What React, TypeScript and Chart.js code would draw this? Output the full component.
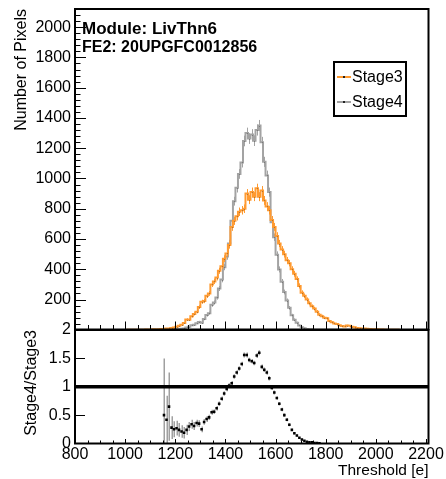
import React, { useEffect, useRef } from "react";
import { Chart, registerables } from "chart.js";

Chart.register(...registerables);

const FONT = "'Liberation Sans', Arial, Helvetica, sans-serif";
const ORANGE = "#ff9a30";
const GREY = "#a3a3a3";

const TITLE_MODULE = "Module: LivThn6";
const TITLE_FE = "FE2: 20UPGFC0012856";
const X_TITLE = "Threshold [e]";
const Y_TITLE_TOP = "Number of Pixels";
const Y_TITLE_BOTTOM = "Stage4/Stage3";
const SERIES_LABELS = ["Stage3", "Stage4"];

const X_MIN = 800;
const X_MAX = 2210;
const X_TICKS = [800, 1000, 1200, 1400, 1600, 1800, 2000, 2200];
const TOP_Y_MIN = 2;
const TOP_Y_MAX = 2120;
const TOP_Y_TICKS = [200, 400, 600, 800, 1000, 1200, 1400, 1600, 1800, 2000];
const BOT_Y_TICKS = [0, 0.5, 1, 1.5, 2];
const RATIO_REF = 1;

const BIN_CENTERS = [
  1005, 1015, 1025, 1035, 1045, 1055, 1065, 1075, 1085, 1095,
  1105, 1115, 1125, 1135, 1145, 1155, 1165, 1175, 1185, 1195,
  1205, 1215, 1225, 1235, 1245, 1255, 1265, 1275, 1285, 1295,
  1305, 1315, 1325, 1335, 1345, 1355, 1365, 1375, 1385, 1395,
  1405, 1415, 1425, 1435, 1445, 1455, 1465, 1475, 1485, 1495,
  1505, 1515, 1525, 1535, 1545, 1555, 1565, 1575, 1585, 1595,
  1605, 1615, 1625, 1635, 1645, 1655, 1665, 1675, 1685, 1695,
  1705, 1715, 1725, 1735, 1745, 1755, 1765, 1775, 1785, 1795,
  1805, 1815, 1825, 1835, 1845, 1855, 1865, 1875, 1885, 1895,
  1905, 1915, 1925, 1935, 1945, 1955, 1965, 1975, 1985, 1995,
  2005, 2015, 2025, 2035, 2045, 2055, 2065, 2075, 2085, 2095,
];

const STAGE3 = [
  0, 1, 0, 1, 0, 1, 1, 0, 2, 1,
  2, 3, 2, 4, 5, 6, 8, 9, 12, 15,
  20, 26, 33, 45, 68, 66, 90, 105, 120, 150,
  185, 190, 225, 240, 300, 320, 345, 390, 420, 470,
  505, 560, 680, 720, 750, 780, 790, 800, 900, 860,
  910, 880, 935, 880, 920, 855, 815, 790, 725, 680,
  620, 570, 530, 500, 460, 440, 400, 370, 335, 290,
  245, 225, 200, 175, 155, 140, 120, 100, 90, 80,
  76, 58, 50, 42, 38, 30, 25, 22, 28, 26,
  20, 17, 12, 10, 9, 8, 7, 5, 4, 4,
  3, 2, 2, 1, 1, 0, 0, 0, 0, 0,
];

const STAGE4 = [
  0, 0, 0, 0, 0, 0, 0, 0, 0, 0,
  0, 0, 0, 0, 0, 3, 3, 6, 4, 4,
  5, 6, 7, 9, 16, 20, 30, 33, 43, 52,
  46, 72, 97, 110, 165, 180, 214, 273, 332, 414,
  485, 571, 720, 850, 938, 1030, 1106, 1248, 1300, 1264,
  1290, 1250, 1320, 1350, 1240, 1110, 1020, 910, 710, 612,
  496, 399, 318, 250, 193, 145, 96, 67, 47, 29,
  17, 11, 6, 4, 3, 1, 1, 0, 0, 0,
  0, 0, 0, 0, 0, 0, 0, 0, 0, 0,
  0, 0, 0, 0, 0, 0, 0, 0, 0, 0,
  0, 0, 0, 0, 0, 0, 0, 0, 0, 0,
];

const RATIO_CENTERS = [
  1155, 1165, 1175, 1185, 1195, 1205, 1215, 1225, 1235, 1245,
  1255, 1265, 1275, 1285, 1295, 1305, 1315, 1325, 1335, 1345,
  1355, 1365, 1375, 1385, 1395, 1405, 1415, 1425, 1435, 1445,
  1455, 1465, 1475, 1485, 1495, 1505, 1515, 1525, 1535, 1545,
  1555, 1565, 1575, 1585, 1595, 1605, 1615, 1625, 1635, 1645,
  1655, 1665, 1675, 1685, 1695, 1705, 1715, 1725, 1735, 1745,
  1755, 1765, 1775,
];

const RATIO = [
  0.5, 0.42, 0.65, 0.28, 0.25, 0.27, 0.24, 0.21, 0.19, 0.24,
  0.3, 0.34, 0.31, 0.36, 0.35, 0.25, 0.38, 0.43, 0.46, 0.55,
  0.56, 0.62, 0.7, 0.79, 0.88, 0.96, 1.02, 1.06, 1.18, 1.25,
  1.32, 1.4, 1.56, 1.56, 1.47, 1.45, 1.42, 1.55, 1.6, 1.35,
  1.3, 1.25, 1.15, 0.98, 0.9, 0.8, 0.7, 0.6, 0.5, 0.42,
  0.33, 0.24, 0.18, 0.14, 0.1, 0.07, 0.05, 0.03, 0.02, 0.02,
  0.01, 0.01, 0.005,
];

const RATIO_ERR = [
  1.0, 0.42, 0.6, 0.2, 0.14, 0.13, 0.12, 0.11, 0.1, 0.09,
  0.08, 0.08, 0.07, 0.06, 0.06, 0.05, 0.05, 0.05, 0.045, 0.045,
  0.04, 0.04, 0.04, 0.04, 0.04, 0.04, 0.04, 0.04, 0.04, 0.04,
  0.04, 0.04, 0.045, 0.045, 0.04, 0.04, 0.04, 0.045, 0.045, 0.04,
  0.04, 0.04, 0.04, 0.035, 0.035, 0.03, 0.03, 0.03, 0.03, 0.03,
  0.025, 0.02, 0.02, 0.02, 0.015, 0.015, 0.01, 0.01, 0.01, 0.01,
  0.01, 0.01, 0.005,
];

function drawTicks(
  ctx: CanvasRenderingContext2D,
  chart: any,
  opts: {
    yMajor: number[];
    yMinorStep: number;
    yMajorLen: number;
    yMinorLen: number;
    xMajorLen: number;
    xMinorLen: number;
  }
) {
  const ca = chart.chartArea;
  const xs = chart.scales.x;
  const ys = chart.scales.y;
  ctx.strokeStyle = "#000";
  ctx.lineWidth = 1;
  ctx.beginPath();
  const yMin = ys.min;
  const yMax = ys.max;
  if (opts.yMinorStep > 0) {
    const first = Math.ceil(yMin / opts.yMinorStep) * opts.yMinorStep;
    for (let v = first; v <= yMax + 1e-9; v += opts.yMinorStep) {
      const p = Math.round(ys.getPixelForValue(v)) + 0.5;
      ctx.moveTo(ca.left, p);
      ctx.lineTo(ca.left + opts.yMinorLen, p);
    }
  }
  for (const v of opts.yMajor) {
    if (v <= yMin || v >= yMax) continue;
    const p = Math.round(ys.getPixelForValue(v)) + 0.5;
    ctx.moveTo(ca.left, p);
    ctx.lineTo(ca.left + opts.yMajorLen, p);
  }
  for (let v = X_MIN; v <= X_MAX; v += 50) {
    if (v <= X_MIN || v >= X_MAX) continue;
    const p = Math.round(xs.getPixelForValue(v)) + 0.5;
    const len = X_TICKS.includes(v) ? opts.xMajorLen : opts.xMinorLen;
    ctx.moveTo(p, ca.bottom);
    ctx.lineTo(p, ca.bottom - len);
  }
  ctx.stroke();
  ctx.lineWidth = 2;
  ctx.strokeRect(ca.left, ca.top, ca.right - ca.left, ca.bottom - ca.top);
}

const topPlugin = {
  id: "topDecor",
  afterDatasetDraw(chart: any, args: any) {
    const ctx = chart.ctx as CanvasRenderingContext2D;
    const ca = chart.chartArea;
    const xs = chart.scales.x;
    const ys = chart.scales.y;
    const ds = chart.data.datasets[args.index];
    ctx.save();
    ctx.beginPath();
    ctx.rect(ca.left, ca.top, ca.right - ca.left, ca.bottom - ca.top);
    ctx.clip();
    ctx.strokeStyle = ds.borderColor;
    ctx.lineWidth = 1;
    ctx.beginPath();
    for (const pt of ds.data) {
      if (pt.y <= 0) continue;
      const e = Math.sqrt(pt.y);
      const x = Math.round(xs.getPixelForValue(pt.x)) + 0.5;
      ctx.moveTo(x, ys.getPixelForValue(pt.y - e));
      ctx.lineTo(x, ys.getPixelForValue(pt.y + e));
    }
    ctx.stroke();
    ctx.fillStyle = "rgba(60,60,60,0.4)";
    for (const pt of ds.data) {
      if (pt.y <= 0) continue;
      const x = Math.round(xs.getPixelForValue(pt.x));
      const y = Math.round(ys.getPixelForValue(pt.y));
      ctx.fillRect(x, y, 1, 1);
    }
    ctx.restore();
  },
  afterDraw(chart: any) {
    const ctx = chart.ctx as CanvasRenderingContext2D;
    ctx.save();
    drawTicks(ctx, chart, {
      yMajor: TOP_Y_TICKS,
      yMinorStep: 40,
      yMajorLen: 11,
      yMinorLen: 5.5,
      xMajorLen: 8,
      xMinorLen: 4.5,
    });
    ctx.fillStyle = "#000";
    ctx.textAlign = "left";
    ctx.textBaseline = "alphabetic";
    ctx.font = `bold 17px ${FONT}`;
    ctx.fillText(TITLE_MODULE, 82, 33.5);
    ctx.font = `bold 16px ${FONT}`;
    ctx.fillText(TITLE_FE, 82, 51.5);
    const lx = 334;
    const ly = 62;
    const lw = 72;
    const lh = 54;
    ctx.fillStyle = "#fff";
    ctx.fillRect(lx, ly, lw, lh);
    ctx.lineWidth = 2;
    ctx.strokeStyle = "#000";
    ctx.strokeRect(lx, ly, lw, lh);
    chart.data.datasets.forEach((ds: any, i: number) => {
      const cy = ly + 15 + i * 25;
      ctx.strokeStyle = ds.borderColor;
      ctx.lineWidth = 2;
      ctx.beginPath();
      ctx.moveTo(lx + 3, cy);
      ctx.lineTo(lx + 17, cy);
      ctx.stroke();
      ctx.fillStyle = "#222";
      ctx.fillRect(lx + 9, cy - 1, 2, 2);
      ctx.fillStyle = "#000";
      ctx.font = `16px ${FONT}`;
      ctx.textBaseline = "middle";
      ctx.fillText(ds.label, lx + 18, cy + 1);
    });
    ctx.restore();
  },
};

const bottomPlugin = {
  id: "bottomDecor",
  beforeDatasetsDraw(chart: any) {
    const ctx = chart.ctx as CanvasRenderingContext2D;
    const ca = chart.chartArea;
    const xs = chart.scales.x;
    const ys = chart.scales.y;
    ctx.save();
    ctx.beginPath();
    ctx.rect(ca.left, ca.top, ca.right - ca.left, ca.bottom - ca.top);
    ctx.clip();
    ctx.strokeStyle = "#a0a0a0";
    ctx.lineWidth = 1.5;
    ctx.beginPath();
    RATIO_CENTERS.forEach((c, i) => {
      const x = Math.round(xs.getPixelForValue(c)) + 0.25;
      ctx.moveTo(x, ys.getPixelForValue(RATIO[i] - RATIO_ERR[i]));
      ctx.lineTo(x, ys.getPixelForValue(RATIO[i] + RATIO_ERR[i]));
    });
    ctx.stroke();
    ctx.restore();
  },
  afterDraw(chart: any) {
    const ctx = chart.ctx as CanvasRenderingContext2D;
    ctx.save();
    drawTicks(ctx, chart, {
      yMajor: BOT_Y_TICKS,
      yMinorStep: 0,
      yMajorLen: 10,
      yMinorLen: 0,
      xMajorLen: 4.5,
      xMinorLen: 3,
    });
    ctx.restore();
  },
};

function fixAxisWidth(w: number) {
  return (s: any) => {
    s.width = w;
    s.paddingTop = 0;
    s.paddingBottom = 0;
  };
}

const plainLabel = (v: any) => String(v);

export default function App() {
  const topRef = useRef<HTMLCanvasElement>(null);
  const botRef = useRef<HTMLCanvasElement>(null);

  useEffect(() => {
    const tickFont = { family: FONT, size: 16 };
    const top = new Chart(topRef.current as HTMLCanvasElement, {
      type: "line",
      data: {
        datasets: [
          {
            label: SERIES_LABELS[0],
            data: BIN_CENTERS.map((x, i) => ({ x, y: STAGE3[i] })),
            borderColor: ORANGE,
            backgroundColor: ORANGE,
            borderWidth: 2,
            stepped: "middle",
            pointRadius: 0,
            fill: false,
          },
          {
            label: SERIES_LABELS[1],
            data: BIN_CENTERS.map((x, i) => ({ x, y: STAGE4[i] })),
            borderColor: GREY,
            backgroundColor: GREY,
            borderWidth: 2,
            stepped: "middle",
            pointRadius: 0,
            fill: false,
          },
        ],
      },
      options: {
        responsive: false,
        animation: false,
        devicePixelRatio: 1,
        layout: { padding: { left: 0, right: 17.5, top: 9, bottom: 149.5 } },
        plugins: { legend: { display: false }, tooltip: { enabled: false } },
        scales: {
          x: { type: "linear", min: X_MIN, max: X_MAX, display: false },
          y: {
            type: "linear",
            min: TOP_Y_MIN,
            max: TOP_Y_MAX,
            afterBuildTicks: (s: any) => {
              s.ticks = TOP_Y_TICKS.map((v) => ({ value: v }));
            },
            afterFit: fixAxisWidth(75),
            grid: { display: false, drawTicks: false },
            border: { display: false },
            ticks: { font: tickFont, color: "#000", padding: 4, callback: plainLabel },
            title: {
              display: true,
              text: Y_TITLE_TOP,
              align: "end",
              color: "#000",
              font: { family: FONT, size: 16 },
              padding: { top: 12, bottom: 0 },
            },
          },
        },
      } as any,
      plugins: [topPlugin],
    });

    const bot = new Chart(botRef.current as HTMLCanvasElement, {
      type: "line",
      data: {
        datasets: [
          {
            type: "line",
            label: "ref",
            data: [
              { x: X_MIN, y: RATIO_REF },
              { x: X_MAX, y: RATIO_REF },
            ],
            borderColor: "#000",
            borderWidth: 3.5,
            pointRadius: 0,
            fill: false,
          },
          {
            type: "scatter",
            label: Y_TITLE_BOTTOM,
            data: RATIO_CENTERS.map((x, i) => ({ x, y: RATIO[i] })),
            pointStyle: "rect",
            pointRadius: 1.8,
            backgroundColor: "#000",
            borderWidth: 0,
            showLine: false,
          },
        ],
      } as any,
      options: {
        responsive: false,
        animation: false,
        devicePixelRatio: 1,
        layout: { padding: { left: 0, right: 17.5, top: 330, bottom: 0 } },
        plugins: { legend: { display: false }, tooltip: { enabled: false } },
        scales: {
          x: {
            type: "linear",
            min: X_MIN,
            max: X_MAX,
            afterBuildTicks: (s: any) => {
              s.ticks = X_TICKS.map((v) => ({ value: v }));
            },
            afterFit: (s: any) => {
              s.height = 35.5;
              s.paddingLeft = 0;
              s.paddingRight = 0;
            },
            grid: { display: false, drawTicks: false },
            border: { display: false },
            ticks: {
              font: tickFont,
              color: "#000",
              padding: 1,
              maxRotation: 0,
              autoSkip: false,
              callback: plainLabel,
            },
            title: {
              display: true,
              text: X_TITLE,
              align: "end",
              color: "#000",
              font: { family: FONT, size: 15.5 },
              padding: { top: 0, bottom: -1.5 },
            },
          },
          y: {
            type: "linear",
            min: 0,
            max: 2,
            afterBuildTicks: (s: any) => {
              s.ticks = BOT_Y_TICKS.map((v) => ({ value: v }));
            },
            afterFit: fixAxisWidth(75),
            grid: { display: false, drawTicks: false },
            border: { display: false },
            ticks: { font: tickFont, color: "#000", padding: 4, callback: plainLabel },
            title: {
              display: true,
              text: Y_TITLE_BOTTOM,
              align: "end",
              color: "#000",
              font: { family: FONT, size: 16 },
              padding: { top: 21.5, bottom: 0 },
            },
          },
        },
      } as any,
      plugins: [bottomPlugin],
    });

    return () => {
      top.destroy();
      bot.destroy();
    };
  }, []);

  return (
    <div
      style={{
        position: "absolute",
        left: 0,
        top: 0,
        width: 446,
        height: 479,
        background: "#fff",
      }}
    >
      <canvas
        ref={topRef}
        width={446}
        height={479}
        style={{ position: "absolute", left: 0, top: 0 }}
      />
      <canvas
        ref={botRef}
        width={446}
        height={479}
        style={{ position: "absolute", left: 0, top: 0 }}
      />
    </div>
  );
}
